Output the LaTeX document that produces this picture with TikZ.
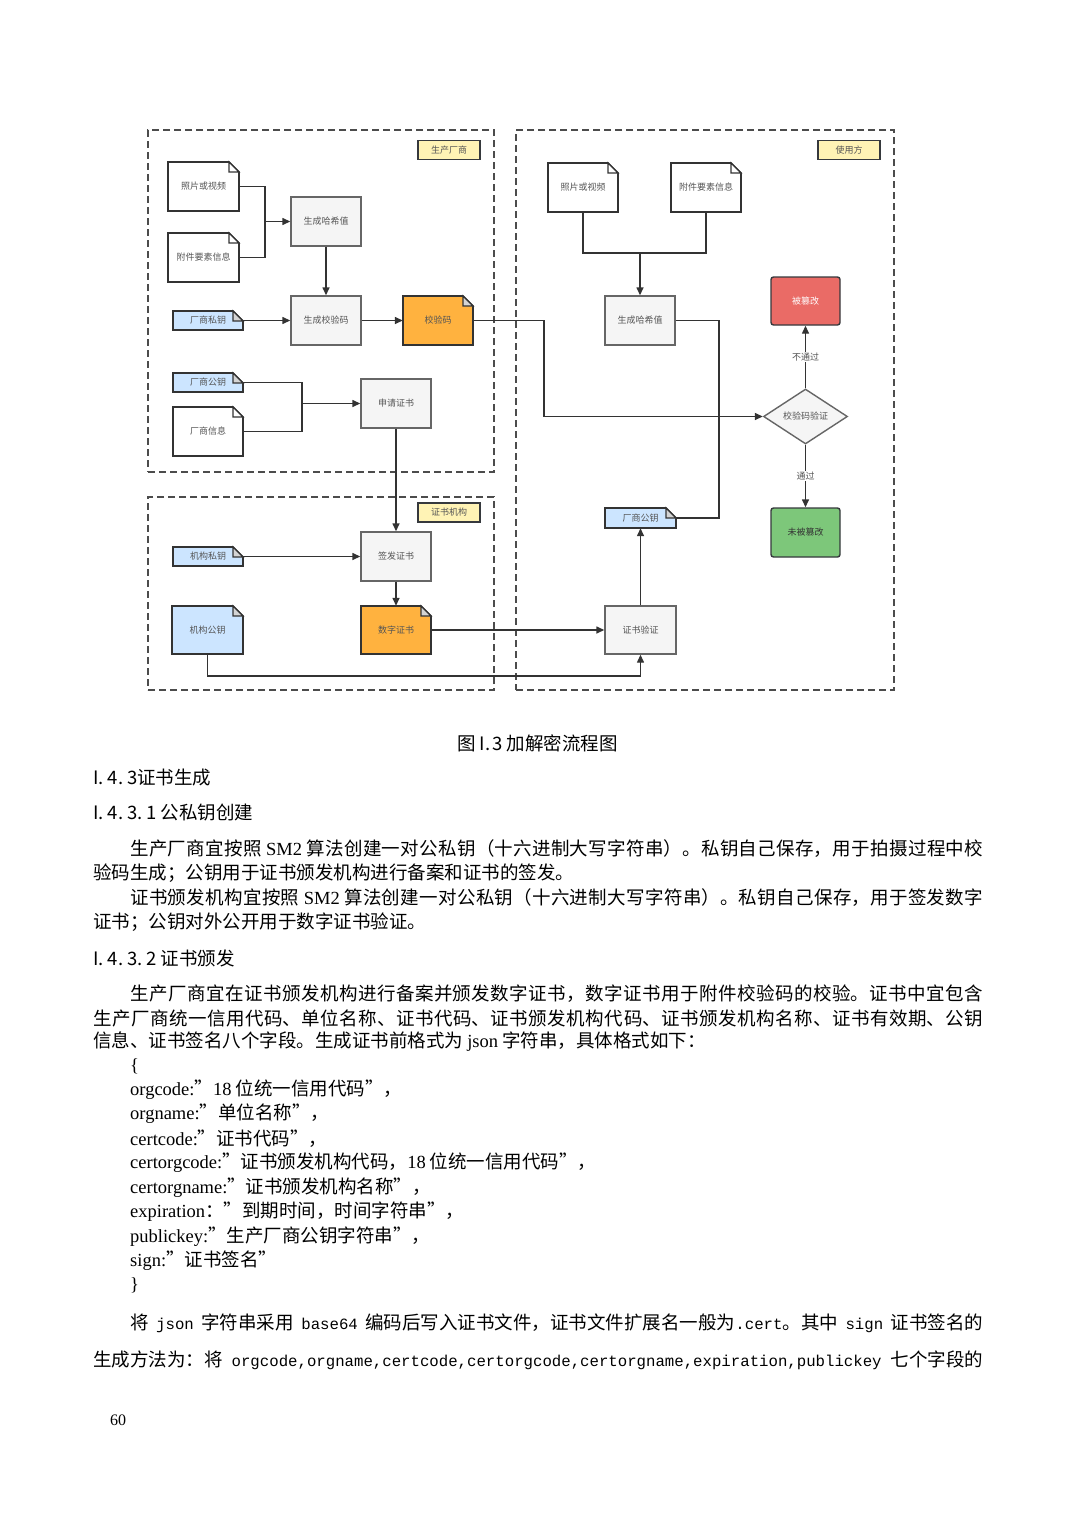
\documentclass[tikz,border=0pt]{standalone}
\usepackage{fontspec}
\setmainfont{Noto Sans CJK SC}
\newfontfamily\tm{Liberation Serif}
\newfontfamily\mono{Liberation Mono}
\usetikzlibrary{calc,arrows.meta,shapes.geometric}
\XeTeXlinebreaklocale "zh"
\XeTeXlinebreakskip=0pt plus 3pt minus 1pt
\tolerance=9999
\hbadness=10000
\definecolor{gfill}{HTML}{F5F5F5}
\definecolor{gline}{HTML}{666666}
\definecolor{dline}{HTML}{36393D}
\definecolor{cline}{HTML}{333333}
\definecolor{bfill}{HTML}{CCE5FF}
\definecolor{ofill}{HTML}{FFB23F}
\definecolor{rfill}{HTML}{EA6B66}
\definecolor{gnfill}{HTML}{7DC77A}
\definecolor{yfill}{HTML}{FFF3B5}
\definecolor{foldc}{HTML}{D4D4D4}
\definecolor{ntext}{HTML}{555555}
\newcommand\nfont{\fontsize{9}{10}\selectfont}
\newcommand\bfont{\fontsize{18.5}{22}\selectfont}
\newcommand\mfont{\fontsize{15.7}{22}\selectfont\mono}
\tikzset{
 grp/.style={draw=black!70, dash pattern=on 7pt off 4pt, line width=1.6pt, inner sep=0},
 proc/.style={draw=gline, fill=gfill, line width=1.4pt, minimum width=70pt, minimum height=49pt, inner sep=0, font=\nfont, text=ntext},
 tagbox/.style={draw=dline, fill=yfill, line width=1.2pt, minimum width=62pt, minimum height=19pt, inner sep=0, font=\nfont, text=ntext},
 doclbl/.style={inner sep=0, font=\nfont, text=ntext},
 docline/.style={draw=cline, line width=1.7pt, line join=miter},
 foldline/.style={draw=cline, line width=1.2pt},
 conn/.style={draw=cline, line width=1.4pt},
 arr/.style={conn, -{Triangle[length=8pt,width=7pt]}},
 lbl/.style={fill=white, inner sep=1pt, font=\nfont, text=ntext},
 dec/.style={diamond, aspect=1.53, draw=gline, fill=gfill, line width=1.4pt, minimum width=84pt, minimum height=55pt, inner sep=0, font=\nfont, text=ntext},
 res/.style={rounded corners=2.5pt, draw=dline, line width=1.4pt, minimum width=69pt, minimum height=48pt, inner sep=0, font=\nfont},
 txtline/.style={anchor=west, inner sep=0, font=\bfont},
}
% name, cx, cy, w, h, fill, fold fill, text
\newcommand\docnd[8]{%
 \pgfmathsetmacro\dxl{#2-#4/2}\pgfmathsetmacro\dxr{#2+#4/2}%
 \pgfmathsetmacro\dyt{#3-#5/2}\pgfmathsetmacro\dyb{#3+#5/2}%
 \filldraw[docline, fill=#6] (\dxl,\dyt) -- (\dxr-10,\dyt) -- (\dxr,\dyt+10) -- (\dxr,\dyb) -- (\dxl,\dyb) -- cycle;
 \filldraw[foldline, fill=#7] (\dxr-10,\dyt) -- (\dxr-10,\dyt+10) -- (\dxr,\dyt+10) -- cycle;
 \node[doclbl, minimum width=#4pt, minimum height=#5pt] (#1) at (#2,#3) {#8};}
\newcommand\jline[4]{\node[txtline] (#1) at (#2,#3) {\parbox{\dimexpr983pt-#2pt\relax}{\parfillskip=0pt\noindent #4}};}
\newcommand\sline[4]{\node[txtline] (#1) at (#2,#3) {\makebox[\dimexpr983pt-#2pt\relax][s]{#4}};}
\newcommand\pline[4]{\node[txtline] (#1) at (#2,#3) {#4};}
\begin{document}
\begin{tikzpicture}[x=1pt,y=-1pt]
\useasboundingbox (0,0) rectangle (1074,1520);
\fill[white] (0,0) rectangle (1074,1520);
% groups
\node[grp, minimum width=346pt, minimum height=342pt] (gmaker) at (321,301) {};
\node[grp, minimum width=378pt, minimum height=560pt] (guser) at (705,410) {};
\node[grp, minimum width=346pt, minimum height=193pt] (gca) at (321,593.5) {};
\node[tagbox] (tmaker) at (449,150) {生产厂商};
\node[tagbox] (tuser) at (849,150) {使用方};
\node[tagbox] (tca) at (449,512.5) {证书机构};
% maker
\docnd{pphoto}{203.5}{186.5}{71}{49}{white}{white}{照片或视频}
\docnd{pattach}{203.5}{257.5}{71}{49}{white}{white}{附件要素信息}
\node[proc] (phash) at (326,221.5) {生成哈希值};
\node[proc] (pgen) at (326,320.5) {生成校验码};
\docnd{ppriv}{208}{320.5}{70}{19}{bfill}{foldc}{厂商私钥}
\docnd{pcode}{438}{320.5}{70}{49}{ofill}{foldc}{校验码}
\docnd{ppub}{208}{382.5}{70}{19}{bfill}{foldc}{厂商公钥}
\docnd{pinfo}{208}{431.5}{70}{49}{white}{white}{厂商信息}
\node[proc] (papply) at (396,403.5) {申请证书};
% ca
\node[proc] (csign) at (396,556.5) {签发证书};
\docnd{cpriv}{208}{556.5}{70}{19}{bfill}{foldc}{机构私钥}
\docnd{cpub}{207.5}{630}{71}{48}{bfill}{foldc}{机构公钥}
\docnd{ccert}{396}{630}{70}{48}{ofill}{foldc}{数字证书}
% user
\docnd{uphoto}{583}{187.5}{70}{49}{white}{white}{照片或视频}
\docnd{uattach}{706}{187.5}{70}{49}{white}{white}{附件要素信息}
\node[proc] (uhash) at (640,320.5) {生成哈希值};
\node[res, fill=rfill, text=white] (ubad) at (805.5,301) {被篡改};
\node[dec] (ucheck) at (805.5,416.5) {校验码验证};
\node[res, fill=gnfill, text=cline, minimum height=49pt] (uok) at (805.5,532.5) {未被篡改};
\docnd{upub}{640.5}{518}{71}{20}{bfill}{foldc}{厂商公钥}
\node[proc, minimum width=71pt, minimum height=48pt] (uverify) at (640.5,630) {证书验证};
% connectors maker
\coordinate (pj) at (265,221.5);
\draw[conn] (pphoto.east) -| (pj);
\draw[conn] (pattach.east) -| (pj);
\draw[arr] (pj) -- (phash.west);
\draw[arr] (phash) -- (pgen);
\draw[arr] (ppriv.east) -- (pgen.west);
\draw[arr] (pgen) -- (pcode);
\coordinate (pk) at (302,403.5);
\draw[conn] (ppub.east) -| (pk);
\draw[conn] (pinfo.east) -| (pk);
\draw[arr] (pk) -- (papply.west);
\draw[arr] (papply.south) -- (csign.north);
\coordinate (k1) at (544,320.5);
\draw[arr] (pcode.east) -- (k1) |- (ucheck.west);
% ca
\draw[arr] (cpriv.east) -- (csign.west);
\draw[arr] (csign) -- (ccert);
\draw[arr] (ccert.east) -- (uverify.west);
\coordinate (k2) at (207.5,676);
\draw[arr] (cpub.south) -- (k2) -| (uverify.south);
% user
\coordinate (uj) at (640,253);
\draw[conn] (uphoto.south) |- (uj);
\draw[conn] (uattach.south) |- (uj);
\draw[arr] (uj) -- (uhash.north);
\coordinate (k3) at (719,320.5);
\draw[conn] (uhash.east) -- (k3) |- (upub.east);
\draw[arr] (uverify) -- (upub);
\draw[arr] (ucheck.north) -- node[lbl] {不通过} (ubad.south);
\draw[arr] (ucheck.south) -- node[lbl] {通过} (uok.north);
% text
\node[font=\bfont] (cap) at (537.5,743) {图 I.\kern2pt 3 加解密流程图};
\pline{h1}{93}{778}{I.\kern4pt 4.\kern4pt 3证书生成}
\pline{h2}{93}{813}{I.\kern4pt 4.\kern4pt 3.\kern4pt 1 公私钥创建}
\jline{a1}{130}{849}{生产厂商宜按照 {\tm SM2} 算法创建一对公私钥（十六进制大写字符串）。私钥自己保存，用于拍摄过程中校}
\pline{a2}{93}{873}{验码生成；公钥用于证书颁发机构进行备案和证书的签发。}
\jline{b1}{130}{898}{证书颁发机构宜按照 {\tm SM2} 算法创建一对公私钥（十六进制大写字符串）。私钥自己保存，用于签发数字}
\pline{b2}{93}{922}{证书；公钥对外公开用于数字证书验证。}
\pline{h3}{93}{958}{I.\kern4pt 4.\kern4pt 3.\kern4pt 2 证书颁发}
\jline{c1}{130}{994}{生产厂商宜在证书颁发机构进行备案并颁发数字证书，数字证书用于附件校验码的校验。证书中宜包含}
\jline{c2}{93}{1018}{生产厂商统一信用代码、单位名称、证书代码、证书颁发机构代码、证书颁发机构名称、证书有效期、公钥}
\pline{c3}{93}{1042}{信息、证书签名八个字段。生成证书前格式为 {\tm json} 字符串，具体格式如下：}
\pline{j0}{130}{1066}{{\tm \{}}
\pline{j1}{130}{1090}{{\tm orgcode:}”{\tm 18} 位统一信用代码”，}
\pline{j2}{130}{1114}{{\tm orgname:}”单位名称”，}
\pline{j3}{130}{1139}{{\tm certcode:}”证书代码”，}
\pline{j4}{130}{1163}{{\tm certorgcode:}”证书颁发机构代码，{\tm 18} 位统一信用代码”，}
\pline{j5}{130}{1188}{{\tm certorgname:}”证书颁发机构名称”，}
\pline{j6}{130}{1212}{{\tm expiration}：”到期时间，时间字符串”，}
\pline{j7}{130}{1237}{{\tm publickey:}”生产厂商公钥字符串”，}
\pline{j8}{130}{1261}{{\tm sign:}”证书签名”}
\pline{j9}{130}{1285}{{\tm \}}}
\sline{d1}{130}{1323}{将 {\mfont json} 字符串采用 {\mfont base64} 编码后写入证书文件，证书文件扩展名一般为{\mfont .cert}。其中 {\mfont sign} 证书签名的}
\sline{d2}{93}{1360}{生成方法为：将 {\mfont orgcode,orgname,certcode,certorgcode,certorgname,expiration,publickey} 七个字段的}
\node[anchor=west, inner sep=0, font=\fontsize{16}{18}\selectfont\tm] (pg) at (110,1420) {60};
\end{tikzpicture}
\end{document}
